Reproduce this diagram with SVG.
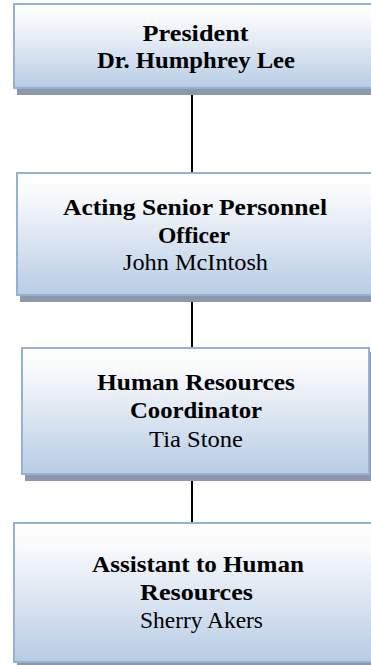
<svg xmlns="http://www.w3.org/2000/svg" width="371" height="665" viewBox="0 0 371 665">
  <style>
    .box { fill: url(#grad); stroke: #94b1d6; stroke-width: 2; }
    .shadow { fill: #8d99ab; }
    .t { font-family: "Liberation Serif", "Times New Roman", serif; font-size: 23px; fill: #000; text-anchor: middle; }
    .b { font-weight: bold; }
    .conn { stroke: #000; stroke-width: 2; fill: none; }
  </style>
  <defs>
    <linearGradient id="grad" x1="0" y1="0" x2="0" y2="1">
      <stop offset="0" stop-color="#ffffff"/>
      <stop offset="0.15" stop-color="#fafbfd"/>
      <stop offset="1" stop-color="#b8cce4"/>
    </linearGradient>
  </defs>
  <rect width="371" height="665" fill="#ffffff"/>
  <g id="connectors">
    <line class="conn" x1="192" y1="93" x2="192" y2="173"/>
    <line class="conn" x1="192" y1="300" x2="192" y2="348"/>
    <line class="conn" x1="192" y1="478" x2="192" y2="523"/>
  </g>
  <g id="node-president">
    <rect class="shadow" x="17" y="8" width="363" height="87"/>
    <rect class="box" x="14" y="4" width="363" height="84"/>
    <text class="t b" x="195.5" y="41" textLength="106" lengthAdjust="spacingAndGlyphs">President</text>
    <text class="t b" x="196" y="68" textLength="198" lengthAdjust="spacingAndGlyphs">Dr. Humphrey Lee</text>
  </g>
  <g id="node-senior-personnel">
    <rect class="shadow" x="20" y="177" width="357" height="125"/>
    <rect class="box" x="17" y="173" width="357" height="122"/>
    <text class="t b" x="195" y="215" textLength="264" lengthAdjust="spacingAndGlyphs">Acting Senior Personnel</text>
    <text class="t b" x="194" y="243" textLength="72" lengthAdjust="spacingAndGlyphs">Officer</text>
    <text class="t" x="195.5" y="270" textLength="145" lengthAdjust="spacingAndGlyphs">John McIntosh</text>
  </g>
  <g id="node-hr-coordinator">
    <rect class="shadow" x="25" y="352" width="347" height="129"/>
    <rect class="box" x="22" y="348" width="347" height="126"/>
    <text class="t b" x="196" y="390" textLength="198" lengthAdjust="spacingAndGlyphs">Human Resources</text>
    <text class="t b" x="196" y="418" textLength="132" lengthAdjust="spacingAndGlyphs">Coordinator</text>
    <text class="t" x="196" y="447" textLength="94" lengthAdjust="spacingAndGlyphs">Tia Stone</text>
  </g>
  <g id="node-hr-assistant">
    <rect class="shadow" x="17" y="527" width="363" height="142"/>
    <rect class="box" x="14" y="523" width="363" height="139"/>
    <text class="t b" x="198" y="572" textLength="212" lengthAdjust="spacingAndGlyphs">Assistant to Human</text>
    <text class="t b" x="196.5" y="600" textLength="113" lengthAdjust="spacingAndGlyphs">Resources</text>
    <text class="t" x="201.5" y="628" textLength="123" lengthAdjust="spacingAndGlyphs">Sherry Akers</text>
  </g>
</svg>
